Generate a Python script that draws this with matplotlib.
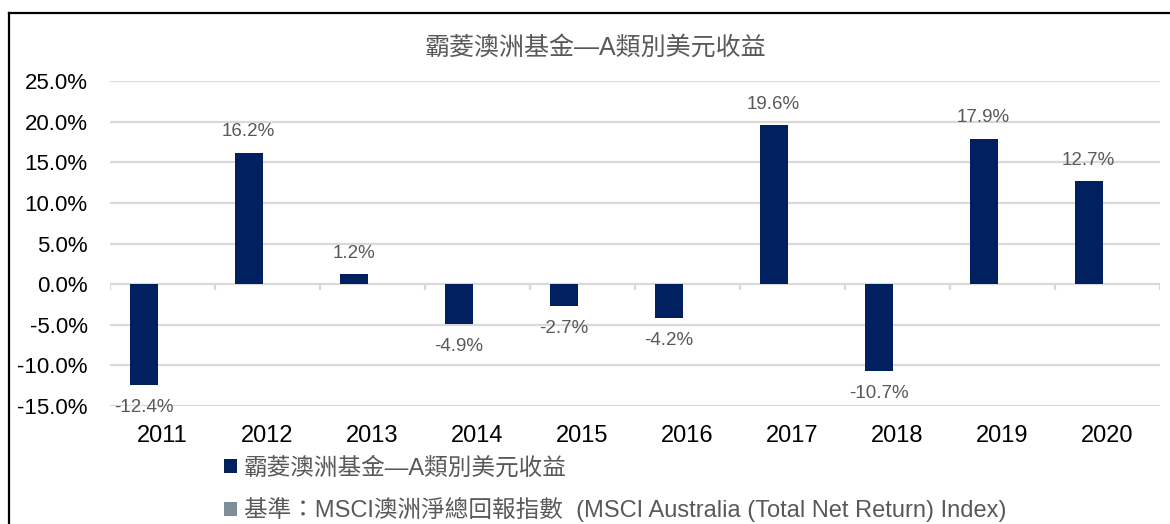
import numpy as np
import matplotlib
matplotlib.use("Agg")
import matplotlib.pyplot as plt
from matplotlib.patches import Patch
from matplotlib.lines import Line2D

plt.rcParams['font.family'] = ['Liberation Sans', 'Noto Sans CJK TC', 'DejaVu Sans']

years = ['2011', '2012', '2013', '2014', '2015', '2016', '2017', '2018', '2019', '2020']
fund_returns = [-12.4, 16.2, 1.2, -4.9, -2.7, -4.2, 19.6, -10.7, 17.9, 12.7]
y_ticks = [-15, -10, -5, 0, 5, 10, 15, 20, 25]
title = '霸菱澳洲基金—A類別美元收益'
fund_label = '霸菱澳洲基金—A類別美元收益'
bench_label = '基準：MSCI澳洲淨總回報指數  (MSCI Australia (Total Net Return) Index)'

NAVY = '#002060'
BENCH = '#7F8C9A'
GRID = '#D9D9D9'
LABEL = '#595959'

W, H = 1170, 524
fig = plt.figure(figsize=(W / 100, H / 100), dpi=100)
ax = fig.add_axes([110 / W, 1 - 406 / H, 1050 / W, 325 / H])

x = np.arange(len(years))
bars = ax.bar(x - 0.18, fund_returns, width=0.265, color=NAVY, zorder=3)

for xi, v in zip(x, fund_returns):
    off = 15 if v >= 0 else -16
    ax.annotate(f'{v:.1f}%', (xi - 0.18, v), xytext=(0, off), textcoords='offset points',
                ha='center', va='center', fontsize=13.5, color=LABEL)

ax.set_xlim(-0.5, len(years) - 0.5)
ax.set_ylim(min(y_ticks), max(y_ticks))
ax.set_yticks(y_ticks)
ax.set_yticklabels([f'{t:.1f}%' for t in y_ticks])
ax.set_xticks(x)
ax.set_xticklabels(years)
ax.tick_params(axis='y', length=0, labelsize=16, pad=16, colors='black')
ax.tick_params(axis='x', length=0, labelsize=17, pad=14, colors='black')
for s in ax.spines.values():
    s.set_visible(False)
ax.yaxis.grid(True, color=GRID, linewidth=1.6, zorder=0)
ax.set_axisbelow(True)
# category boundary tick marks on the zero line
bounds = np.arange(len(years) + 1) - 0.5
ax.vlines(bounds, -0.7, 0, color=GRID, linewidth=1.6, zorder=1)

fig.text(595 / W, 1 - 48 / H, title, ha='center', va='center', fontsize=18, color=LABEL)

handles = [Patch(facecolor=NAVY, edgecolor='none'), Patch(facecolor=BENCH, edgecolor='none')]
fig.legend(handles, [fund_label, bench_label], loc='upper left',
           bbox_to_anchor=(224 / W, 1 - 457 / H), frameon=False, fontsize=17,
           labelcolor=LABEL, handlelength=0.55, handleheight=0.55, handletextpad=0.3,
           labelspacing=0.75, borderpad=0, borderaxespad=0)

# figure border (left and top)
fig.add_artist(Line2D([9 / W, 9 / W], [0, 1 - 13 / H], color='black', linewidth=1.6, transform=fig.transFigure))
fig.add_artist(Line2D([9 / W, 1], [1 - 13 / H, 1 - 13 / H], color='black', linewidth=1.6, transform=fig.transFigure))

fig.savefig('out.png', dpi=100)
